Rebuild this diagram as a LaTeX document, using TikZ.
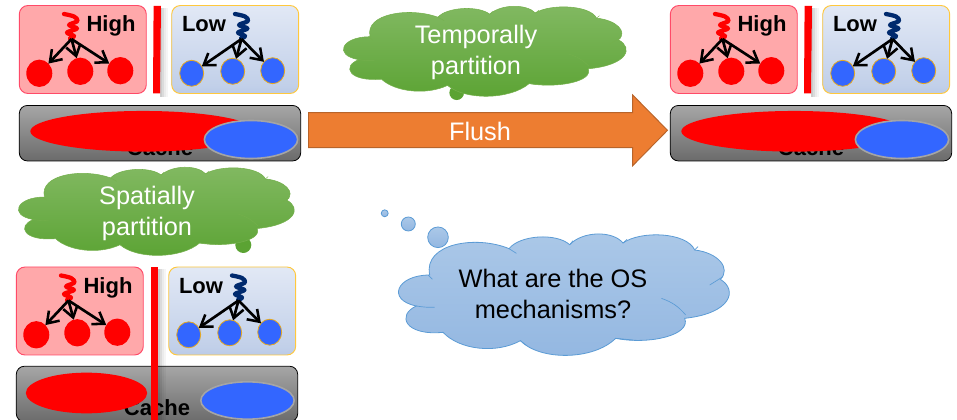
\documentclass[tikz,border=0pt]{standalone}
\usepackage{fontspec}
\setmainfont{Liberation Sans}
\usetikzlibrary{shapes.geometric,arrows.meta}
\definecolor{hiline}{HTML}{FF4A68}
\definecolor{hitop}{HTML}{FFA8AA}
\definecolor{hibot}{HTML}{FF7E90}
\definecolor{lowline}{HTML}{FFC83D}
\definecolor{thrblue}{HTML}{002A6E}
\definecolor{dotblue}{HTML}{3366FF}
\definecolor{dotline}{HTML}{E8A91E}
\definecolor{ovalline}{HTML}{A5A5A5}
\definecolor{grntop}{HTML}{82B962}
\definecolor{grnbot}{HTML}{5BA333}
\definecolor{grnline}{HTML}{74B04C}
\definecolor{blutop}{HTML}{ABC8E8}
\definecolor{blubot}{HTML}{93B7E1}
\definecolor{bluline}{HTML}{5B9BD5}
\definecolor{orafill}{HTML}{ED7D31}
\definecolor{oraline}{HTML}{B8642A}
\definecolor{LOWa}{HTML}{C4D2EA}
\definecolor{LOWb}{HTML}{AABFE3}
\definecolor{LOWc}{HTML}{C2D0E9}
\definecolor{LOWd}{HTML}{F3F6FC}
\pgfdeclareverticalshading{lowshade}{100bp}{
  color(0bp)=(LOWa); color(14bp)=(LOWb); color(30bp)=(LOWc); color(100bp)=(LOWd)}
\pgfdeclareverticalshading{hishade}{100bp}{
  color(0bp)=(hibot); color(22bp)=(hitop); color(100bp)=(hitop)}
\newcommand{\cloudline}{(180,225) .. controls (160,130) and (320,105) .. (418,146)
  .. controls (450,105) and (560,98) .. (600,134)
  .. controls (640,92) and (730,92) .. (760,129)
  .. controls (810,92) and (950,95) .. (975,150)
  .. controls (1045,158) and (1085,205) .. (1052,238)
  .. controls (1105,270) and (1085,340) .. (945,355)
  .. controls (965,405) and (840,435) .. (738,415)
  .. controls (670,482) and (510,482) .. (452,422)
  .. controls (380,462) and (270,450) .. (220,397)
  .. controls (105,408) and (80,345) .. (140,318)
  .. controls (50,300) and (80,225) .. (180,225) -- cycle}
\newcommand{\cloudfolds}{(175,225) -- (188,238) (140,318) to[bend right=5] (195,322)
  (875,295) to[bend left=15] (948,345) (1020,255) -- (1060,230)
  (975,150) -- (985,140) (760,129) -- (772,118) (600,134) -- (610,122)
  (418,146) -- (440,160) (452,422) -- (470,436) (790,420) -- (738,415)}
\newcommand{\barshadow}[4]{%
  \fill[black,opacity=.20] (#1,#2) rectangle ({#1+2},#4);
  \fill[black,opacity=.14] ({#1+2},#3) rectangle ({#1+4},#4);
  \fill[black,opacity=.08] ({#1+4},#3) rectangle ({#1+6},#4);
  \fill[black,opacity=.04] ({#1+6},#3) rectangle ({#1+8},#4);
}
\tikzset{
  x=0.75pt,y=-0.75pt,
  every node/.style={inner sep=0pt,outer sep=0pt},
  hibox/.style={draw=hiline,line width=0.7pt,rounded corners=6.5pt,shading=hishade,minimum width=95.2pt,minimum height=66pt},
  lowbox/.style={draw=lowline,line width=0.7pt,rounded corners=6.5pt,shading=lowshade,minimum width=95.2pt,minimum height=66pt},
  cachebox/.style={draw=black,line width=0.6pt,rounded corners=6pt,top color=black!35,bottom color=black!58,minimum width=211pt,minimum height=41.6pt},
  tasklabel/.style={font=\bfseries\fontsize{16.5}{19}\selectfont,text=black},
  bigtext/.style={font=\fontsize{19}{23.3}\selectfont,align=center},
  reddot/.style={ellipse,fill=red,minimum width=19.5pt,minimum height=20.5pt},
  bluedot/.style={ellipse,fill=dotblue,draw=dotline,line width=0.6pt,minimum width=18pt,minimum height=19.5pt},
  redoval/.style={ellipse,fill=red},
  blueoval/.style={ellipse,fill=dotblue,draw=ovalline,line width=1.2pt},
  thread/.style={line width=3.2pt,line cap=round,line join=round},
  spawn/.style={black,line width=2pt,-{Straight Barb[length=8pt,width=11pt,line width=1.9pt]}},
  partbar/.style={fill=red},
  bubble/.style={circle,draw=bluline,line width=0.6pt,top color=blutop,bottom color=blubot},
  greenblob/.style={circle,fill=grnbot},
  pics/taskpair/.style={code={
    \node[hibox] (-hi) at (82.8,49.5) {};
    \node[lowbox] (-lo) at (235.2,49.5) {};
    \node[tasklabel] (-hitext) at (111,26) {High};
    \node[tasklabel] (-lotext) at (204,24.5) {Low};
    \draw[thread,red] plot[smooth,tension=.55] coordinates {(64,14) (74,16.5) (77.5,21) (69,25) (77,28.5) (67,32.5) (74,36) (70,38.5)};
    \draw[thread,thrblue] plot[smooth,tension=.55] coordinates {(235,14) (245,16.5) (248,21) (239,25) (247.5,28.5) (238,32.5) (245,36) (241,38.5)};
    \coordinate (-hisrc) at (71.5,39);
    \coordinate (-losrc) at (241.5,39);
    \node[reddot] (-r1) at (39.3,73.3) {};
    \node[reddot] (-r2) at (80.3,71.3) {};
    \node[reddot] (-r3) at (120.3,70.7) {};
    \node[bluedot] (-b1) at (191.7,73.3) {};
    \node[bluedot] (-b2) at (232.7,71.3) {};
    \node[bluedot] (-b3) at (272.7,70.7) {};
    \draw[spawn] (-hisrc) -- (-r1);
    \draw[spawn] (-hisrc) -- (-r2);
    \draw[spawn] (-hisrc) -- (-r3);
    \draw[spawn] (-losrc) -- (-b1);
    \draw[spawn] (-losrc) -- (-b2);
    \draw[spawn] (-losrc) -- (-b3);
  }},
  pics/overlapcache/.style={code={
    \node[cachebox] (-box) at (160,133.2) {};
    \node[tasklabel] (-text) at (160,147.5) {Cache};
    \node[redoval,minimum width=169pt,minimum height=30.5pt] (-red) at (143,131.3) {};
    \node[blueoval,minimum width=70pt,minimum height=28.5pt] (-blue) at (251,139.5) {};
  }},
  pics/toppart/.style={code={
    \barshadow{160}{8}{8}{97}
    \fill[partbar] (153.6,6) -- (161,6) -- (160,93.5) -- (153,93.5) -- cycle;
  }},
}
\begin{document}
\begin{tikzpicture}
\path[use as bounding box] (0,0) rectangle (957,420);
\clip (0,0) rectangle (957,420);
% top-left group
\pic (a) at (0,0) {taskpair};
\pic (acache) at (0,0) {overlapcache};
\pic (abar) at (0,0) {toppart};
% top-right group
\pic (b) at (651,0) {taskpair};
\pic (bcache) at (651,0) {overlapcache};
\pic (bbar) at (651,0) {toppart};
% bottom-left group
\pic (c) at (-3,261.5) {taskpair};
\node[cachebox] (ccache) at (157,394) {};
\node[tasklabel] (ccachetext) at (157,408) {Cache};
\node[redoval,minimum width=91pt,minimum height=30.5pt] (cred) at (86.5,393) {};
\node[blueoval,minimum width=70pt,minimum height=28pt] (cblue) at (247.5,400.5) {};
\barshadow{158}{269}{269}{420}
\fill[partbar] (151,267) rectangle (158,420);
% flush arrow
\draw[fill=orafill,draw=oraline,line width=0.7pt] (308.5,112.7) -- (632.7,112.7) -- (632.7,95) -- (667.5,130.3) -- (632.7,165.7) -- (632.7,147.7) -- (308.5,147.7) -- cycle;
\node[bigtext,text=white] (flush) at (480,131) {Flush};
% temporal cloud
\node[greenblob,minimum size=11pt] (tblob) at (456.7,92.7) {};
\begin{scope}[shift={(318.8,-18.9)},x=0.2137pt,y=-0.1853pt]
\shade[top color=grntop,bottom color=grnbot,draw=grnline,line width=0.4pt] \cloudline;
\draw[grnline,line width=0.3pt] \cloudfolds;
\end{scope}
\node[bigtext,text=white] (ttext) at (476,52) {Temporally\\partition};
% spatial cloud
\node[greenblob,minimum size=12pt] (sblob) at (243.3,245) {};
\begin{scope}[shift={(-5.6,142.6)},x=0.2085pt,y=-0.1815pt]
\shade[top color=grntop,bottom color=grnbot,draw=grnline,line width=0.4pt] \cloudline;
\draw[grnline,line width=0.3pt] \cloudfolds;
\end{scope}
\node[bigtext,text=white] (stext) at (147,213) {Spatially\\partition};
% question cloud
\node[bubble,minimum size=5.2pt] (q1) at (384.7,213.3) {};
\node[bubble,minimum size=10.5pt] (q2) at (408.3,224) {};
\node[bubble,minimum size=15.5pt] (q3) at (438,237.3) {};
\begin{scope}[shift={(369.7,200)},x=0.25pt,y=-0.25pt]
\shade[top color=blutop,bottom color=blubot,draw=bluline,line width=0.6pt] \cloudline;
\draw[bluline,line width=0.5pt] \cloudfolds;
\end{scope}
\node[bigtext,text=black] (qtext) at (553,293.5) {What are the OS\\mechanisms?};
\end{tikzpicture}
\end{document}
